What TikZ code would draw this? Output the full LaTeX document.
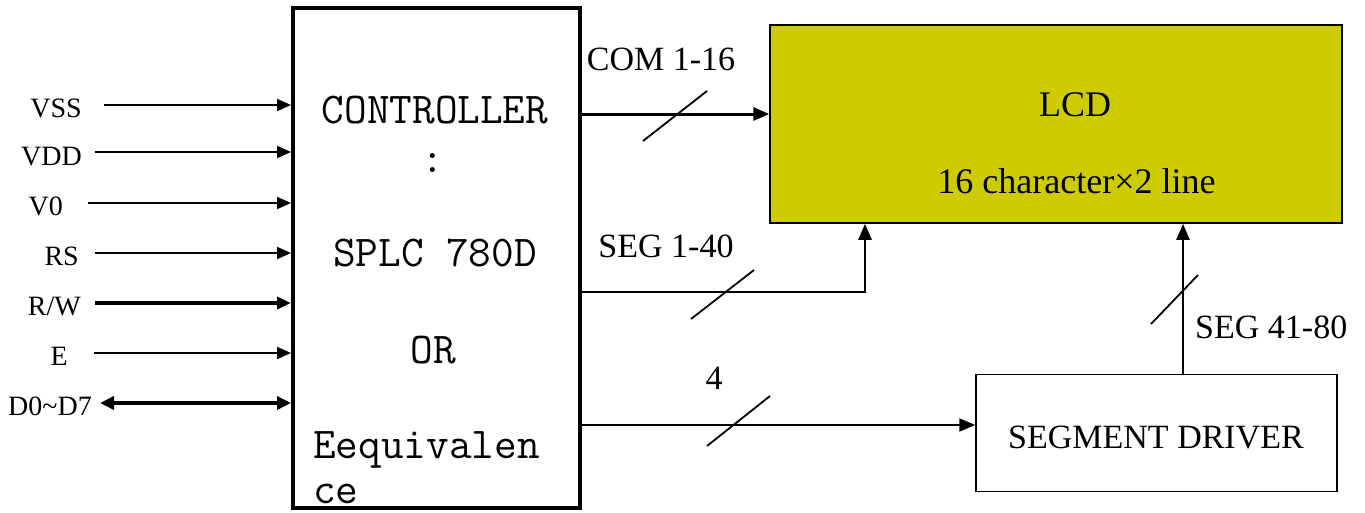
\documentclass[tikz,border=0pt]{standalone}
\usepackage{fontspec}
\setmainfont{Liberation Serif}
\usetikzlibrary{positioning,calc,arrows.meta}
\definecolor{lcdYellow}{HTML}{CECC00}
\tikzset{
  block box/.style={
    rectangle, draw=black,
    line width=1.5pt,
    inner sep=0pt,
  },
  ctrl text/.style={font=\ttfamily\fontsize{44}{48}\selectfont, inner sep=0pt, anchor=base},
  pin label/.style={font=\fontsize{28}{30}\selectfont, inner sep=0pt, anchor=base east},
  bus label/.style={font=\fontsize{34}{36}\selectfont, inner sep=0pt, anchor=base},
  lcd text/.style={font=\fontsize{36}{38}\selectfont, inner sep=0pt, anchor=base},
  pin arrow/.style={line width=2pt, -{Triangle[length=14pt,width=12pt]}},
  bus arrow/.style={line width=2.5pt, -{Triangle[length=16pt,width=13pt]}},
  bus slash/.style={line width=1.8pt},
}
\begin{document}
\begin{tikzpicture}[x=1pt,y=-1pt]
\useasboundingbox (0,0) rectangle (1365,512);

%% blocks
\node[block box, line width=4pt, minimum width=287pt, minimum height=500pt]
  (ctrl) at (436.5,258) {};
\node[block box, fill=lcdYellow, minimum width=572pt, minimum height=198pt]
  (lcd) at (1056,124) {};
\node[block box, minimum width=361pt, minimum height=117pt]
  (drv) at (1156.5,433) {};

%% controller text
\node[ctrl text] (ctrlA) at (435,123) {CONTROLLER};
\node[ctrl text] (ctrlB) at (433,172) {:};
\node[ctrl text] (ctrlC) at (435,266) {SPLC 780D};
\node[ctrl text] (ctrlD) at (433,363) {OR};
\node[ctrl text, anchor=base west] (ctrlE) at (313,458) {Eequivalen};
\node[ctrl text, anchor=base west] (ctrlF) at (313,503) {ce};

%% lcd and driver text
\node[lcd text] (lcdA) at (1075,116) {LCD};
\node[lcd text] (lcdB) at (1076.5,193) {16 character×2 line};
\node[bus label] (drvA) at (1156,448) {SEGMENT DRIVER};

%% pins
\node[pin label] (vss) at (82,117) {VSS};
\node[pin label] (vdd) at (82,165) {VDD};
\node[pin label] (vzero) at (63,215) {V0};
\node[pin label] (rs) at (79,265) {RS};
\node[pin label] (rw) at (81,315) {R/W};
\node[pin label] (en) at (68,365) {E};
\node[pin label] (data) at (92,415) {D0\textasciitilde D7};

\coordinate (vssIn) at (104,105);
\coordinate (vddIn) at (95,152);
\coordinate (vzeroIn) at (88,203);
\coordinate (rsIn) at (95,253);
\coordinate (rwIn) at (95,303);
\coordinate (enIn) at (94,353);
\coordinate (dataIn) at (100,403);

\draw[pin arrow] (vssIn) -- (vssIn -| ctrl.west);
\draw[pin arrow] (vddIn) -- (vddIn -| ctrl.west);
\draw[pin arrow] (vzeroIn) -- (vzeroIn -| ctrl.west);
\draw[pin arrow] (rsIn) -- (rsIn -| ctrl.west);
\draw[pin arrow, line width=3.5pt] (rwIn) -- (rwIn -| ctrl.west);
\draw[pin arrow] (enIn) -- (enIn -| ctrl.west);
\draw[line width=4pt, {Triangle[length=14pt,width=13pt]}-{Triangle[length=14pt,width=13pt]}]
  (dataIn) -- (dataIn -| ctrl.west);

%% buses
\coordinate (comY) at (700,114);
\coordinate (segOne) at (865,292);
\coordinate (fourY) at (800,425);
\coordinate (segTwo) at (1183,300);

\draw[bus arrow, line width=3pt] (ctrl.east |- comY) -- (lcd.west |- comY);
\draw[bus arrow] (ctrl.east |- segOne) -| (segOne |- lcd.south);
\draw[bus arrow, line width=2pt] (ctrl.east |- fourY) -- (drv.west |- fourY);
\draw[bus arrow, line width=2pt] (segTwo |- drv.north) -- (segTwo |- lcd.south);

\draw[bus slash] (643,141) -- (707,91);
\draw[bus slash] (691,319) -- (754,270);
\draw[bus slash] (707,446) -- (770,396);
\draw[bus slash] (1151,324) -- (1198,275);

\node[bus label] (com) at (661,70) {COM 1-16};
\node[bus label] (segA) at (666,257) {SEG 1-40};
\node[bus label] (four) at (714,389) {4};
\node[bus label, anchor=base west] (segB) at (1195,338) {SEG 41-80};

\end{tikzpicture}
\end{document}
